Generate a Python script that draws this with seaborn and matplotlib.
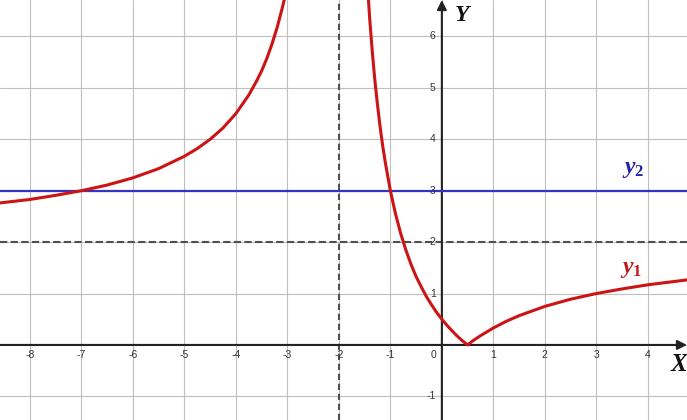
import pandas as pd
import matplotlib.pyplot as plt
import seaborn as sns

# y1 = |(2x-1)/(x+2)|
left_x = [-8.6, -8.0, -7.5, -7.0, -6.5, -6.0, -5.5, -5.0, -4.75, -4.5, -4.25, -4.0,
          -3.75, -3.6, -3.5, -3.4, -3.3, -3.2, -3.1, -3.05, -3.0]
left_y = [2.76, 2.83, 2.91, 3.0, 3.11, 3.25, 3.43, 3.67, 3.82, 4.0, 4.22, 4.5,
          4.86, 5.13, 5.33, 5.57, 5.85, 6.17, 6.55, 6.76, 7.0]
right_x = [-1.45, -1.4, -1.35, -1.3, -1.25, -1.2, -1.15, -1.1, -1.0, -0.9, -0.8, -0.7,
           -0.6, -0.5, -0.4, -0.3, -0.2, -0.1, 0.0, 0.1, 0.25, 0.3, 0.4, 0.5,
           0.6, 0.75, 0.8, 1.0, 1.25, 1.5, 2.0, 2.5, 3.0, 3.5, 4.0, 4.8]
right_y = [7.09, 6.33, 5.69, 5.14, 4.67, 4.25, 3.88, 3.56, 3.0, 2.55, 2.17, 1.85,
           1.57, 1.33, 1.13, 0.94, 0.78, 0.63, 0.5, 0.38, 0.22, 0.17, 0.08, 0.0,
           0.08, 0.18, 0.21, 0.33, 0.46, 0.57, 0.75, 0.89, 1.0, 1.09, 1.17, 1.27]
y2_value = 3
asym_x = -2
asym_y = 2

x_ticks = [-8, -7, -6, -5, -4, -3, -2, -1, 1, 2, 3, 4]
y_ticks = [-1, 1, 2, 3, 4, 5, 6]

sns.set_style('white')
plt.rcParams['mathtext.fontset'] = 'custom'
plt.rcParams['mathtext.it'] = 'Liberation Serif:italic:bold'
plt.rcParams['mathtext.rm'] = 'Liberation Serif:bold'

fig = plt.figure(figsize=(6.87, 4.2), dpi=100)
ax = fig.add_axes([0, 0, 1, 1])
xmin, xmax = -8.58, 4.76
ymin, ymax = -1.46, 6.71
ax.set_xlim(xmin, xmax)
ax.set_ylim(ymin, ymax)
for s in ax.spines.values():
    s.set_visible(False)
ax.set_xticks([])
ax.set_yticks([])

# grid
for gx in range(-8, 5):
    ax.axvline(gx, color='#bfbfbf', lw=0.8, zorder=1)
for gy in range(-1, 7):
    ax.axhline(gy, color='#bfbfbf', lw=0.8, zorder=1)

# asymptotes
ax.axvline(asym_x, color='#505050', lw=1.5, ls=(0, (3, 1.8)), zorder=2)
ax.axhline(asym_y, color='#505050', lw=1.5, ls=(0, (3.5, 1.6)), zorder=2)

# axes with arrows
ax.annotate('', xy=(xmax, 0), xytext=(xmin, 0),
            arrowprops=dict(arrowstyle='-|>', color='#222222', lw=1.5,
                            mutation_scale=14, shrinkA=0, shrinkB=0), zorder=3)
ax.annotate('', xy=(0, ymax), xytext=(0, ymin),
            arrowprops=dict(arrowstyle='-|>', color='#222222', lw=1.5,
                            mutation_scale=14, shrinkA=0, shrinkB=0), zorder=3)

# y2
ax.axhline(y2_value, color='#3434c4', lw=1.6, zorder=3)

# y1
left = pd.DataFrame({'x': left_x, 'y': left_y})
right = pd.DataFrame({'x': right_x, 'y': right_y})
sns.lineplot(data=left, x='x', y='y', sort=False, color='#cc1414', lw=2.2, ax=ax, zorder=4)
sns.lineplot(data=right, x='x', y='y', sort=False, color='#cc1414', lw=2.2, ax=ax, zorder=4)
ax.set_xlim(xmin, xmax)
ax.set_ylim(ymin, ymax)
ax.set_xlabel('')
ax.set_ylabel('')

# tick labels
tick_font = dict(fontsize=7.5, color='#333333', family='Liberation Sans')
for t in x_ticks:
    ax.text(t, -0.2, str(t), ha='center', va='center', **tick_font)
for t in y_ticks:
    ax.text(-0.12, t, str(t), ha='right', va='center', **tick_font)
ax.text(-0.17, -0.2, '0', ha='center', va='center', **tick_font)

lab_font = dict(family='Liberation Serif', fontweight='bold', fontstyle='italic')
ax.text(4.6, -0.39, 'X', ha='center', va='center', fontsize=18, color='#111111', **lab_font)
ax.text(0.39, 6.4, 'Y', ha='center', va='center', fontsize=17, color='#111111', **lab_font)
ax.text(3.71, 3.45, '$y_2$', ha='center', va='center', fontsize=17, color='#2424a8')
ax.text(3.68, 1.5, '$y_1$', ha='center', va='center', fontsize=17, color='#c01818')

fig.savefig('out.png', dpi=100)
